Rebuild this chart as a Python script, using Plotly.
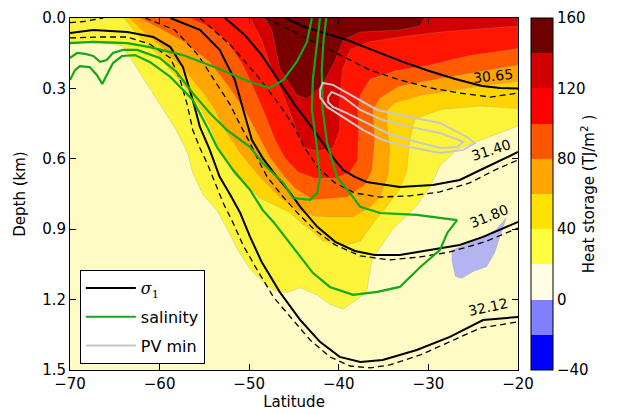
import plotly.graph_objects as go

# ---------------- data (latitude in deg, depth in km) ----------------
HS20_LAT = [-70, -20, -20, -23.5, -26.8, -28.7, -29.8, -31.3, -34.0, -36.3, -36.9, -38.75, -39.5, -41.0, -42.4,
            -44.3, -45.8, -47.3, -48.6, -49.9, -51.25, -52.6, -53.6, -55.2, -56.3, -56.9, -58.1, -59.6, -61.9,
            -64.1, -65.5, -70]
HS20_DEP = [0, 0, 0.46, 0.51, 0.56, 0.63, 0.72, 0.80, 0.90, 1.03, 1.17, 1.22, 1.24, 1.22, 1.18,
            1.15, 1.17, 1.16, 1.12, 1.07, 0.99, 0.89, 0.82, 0.75, 0.66, 0.575, 0.48, 0.39, 0.25,
            0.12, 0.11, 0.10]
HS40_LAT = [-64.0, -62.75, -60.5, -58.3, -56.4, -55.2, -54.2, -53.3, -51.6, -48.8, -45.4, -44.3, -43.2, -41.8,
            -39.3, -37.6, -36.3, -34.6, -33.2, -32.4, -32.1, -31.5, -28.7, -24.2, -20, -20]
HS40_DEP = [0, 0.06, 0.145, 0.243, 0.328, 0.40, 0.477, 0.562, 0.669, 0.767, 0.83, 0.87, 0.90, 0.95,
            0.97, 0.95, 0.88, 0.80, 0.73, 0.65, 0.52, 0.43, 0.39, 0.375, 0.385, 0]
HS60_LAT = [-63.3, -62.2, -60.0, -57.2, -54.9, -53.8, -52.7, -51.0, -48.8, -46.6, -44.7, -42.7, -41.0, -38.4,
            -36.5, -35.4, -34.5, -34.3, -34.6, -34.6, -33.7, -30.9, -27.6, -24.2, -20, -20]
HS60_DEP = [0, 0.043, 0.115, 0.222, 0.328, 0.392, 0.477, 0.575, 0.677, 0.763, 0.818, 0.844, 0.848, 0.848,
            0.805, 0.763, 0.669, 0.562, 0.456, 0.392, 0.36, 0.33, 0.31, 0.29, 0.27, 0]
HS80_LAT = [-62.2, -60.0, -57.2, -54.4, -52.4, -50.5, -49.0, -47.7, -46.2, -44.9, -42.9, -39.1, -37.1, -36.3,
            -36.0, -36.2, -35.4, -33.2, -29.8, -25.4, -20, -20]
HS80_DEP = [0, 0.043, 0.102, 0.187, 0.285, 0.392, 0.498, 0.592, 0.669, 0.724, 0.775, 0.763, 0.712, 0.648,
            0.52, 0.392, 0.34, 0.29, 0.265, 0.235, 0.20, 0]
HS100_LAT = [-56.6, -54.4, -52.4, -50.7, -49.4, -48.2, -47.1, -46.0, -44.55, -42.7, -40.4, -38.75, -37.9,
             -37.8, -37.9, -37.6, -36.5, -33.7, -29.8, -25.4, -20, -20]
HS100_DEP = [0, 0.038, 0.102, 0.20, 0.307, 0.413, 0.52, 0.597, 0.656, 0.682, 0.682, 0.656, 0.605,
             0.477, 0.392, 0.328, 0.26, 0.225, 0.20, 0.16, 0.13, 0]
HS120_LAT = [-49.9, -48.6, -47.45, -46.2, -45.2, -44.55, -43.8, -42.3, -40.65, -39.9, -39.9, -39.6, -38.75,
             -36.7, -33.2, -28.7, -20, -20]
HS120_DEP = [0, 0.094, 0.222, 0.328, 0.426, 0.498, 0.554, 0.567, 0.554, 0.477, 0.349, 0.222, 0.136,
             0.102, 0.081, 0.06, 0.034, 0]
HS140_LAT = [-48.2, -47.45, -46.6, -44.7, -43.55, -41.8, -40.4, -39.5, -37.6, -33.2, -30.9, -30.4]
HS140_DEP = [0, 0.055, 0.213, 0.328, 0.345, 0.285, 0.179, 0.094, 0.06, 0.051, 0.034, 0]
NEG_LAT = [-27.4, -26.5, -24.2, -22.4, -21.3, -22.0, -22.6, -23.5, -25.0, -26.3, -27.0, -27.4]
NEG_DEP = [0.99, 0.975, 0.94, 0.90, 0.85, 0.93, 1.0, 1.06, 1.08, 1.11, 1.10, 1.03]

S3065_LAT = [-46, -44, -42, -39, -36, -33, -30, -27, -24, -22, -20]
S3065_DEP = [0, 0.035, 0.06, 0.095, 0.14, 0.185, 0.225, 0.26, 0.29, 0.298, 0.30]
S3140_LAT = [-52.7, -50.5, -48.6, -46.8, -44.9, -43.2, -41.8, -40.6, -39.5, -38.2, -36.9, -33.2, -29.5, -26.5, -23.5, -20]
S3140_DEP = [0, 0.072, 0.158, 0.264, 0.371, 0.456, 0.533, 0.597, 0.648, 0.677, 0.699, 0.72, 0.712, 0.69, 0.635, 0.571]
S3180_LAT = [-58.8, -55.5, -53.3, -51.6, -50.5, -49.7, -48.5, -46.9, -45.4, -44.3, -42.4, -40.4, -38.2, -36.0,
             -33.2, -29.5, -26.5, -23.9, -20]
S3180_DEP = [0, 0.05, 0.136, 0.264, 0.413, 0.52, 0.597, 0.677, 0.746, 0.805, 0.89, 0.954, 0.993, 1.01,
             1.01, 0.988, 0.967, 0.933, 0.869]
S3212_LAT = [-70, -67.4, -63.6, -60.7, -58.8, -57.4, -56.3, -55.5, -54.4, -53.3, -52.1, -51.0, -49.9, -48.6,
             -46.6, -44.3, -42.1, -39.9, -37.6, -35.1, -31.3, -27.6, -23.9, -20]
S3212_DEP = [0.064, 0.051, 0.06, 0.081, 0.124, 0.209, 0.349, 0.464, 0.562, 0.677, 0.754, 0.831, 0.933, 1.04,
             1.167, 1.287, 1.38, 1.444, 1.466, 1.457, 1.415, 1.359, 1.287, 1.274]
D3065_LAT = [-48.2, -45.4, -42.1, -39.3, -36.5, -33.2, -29.8, -26.5, -23.1, -20]
D3065_DEP = [0, 0.051, 0.115, 0.17, 0.222, 0.264, 0.298, 0.32, 0.337, 0.32]
D3140_LAT = [-55.5, -52.1, -49.0, -46.6, -45.1, -43.8, -42.3, -40.4, -38.2, -35.4, -32.1, -28.7, -25.4, -22.6, -20]
D3140_DEP = [0, 0.115, 0.251, 0.371, 0.456, 0.554, 0.639, 0.703, 0.746, 0.763, 0.758, 0.741, 0.703, 0.648, 0.605]
D3180_LAT = [-61.6, -58.3, -55.7, -53.8, -52.1, -51.0, -49.9, -49.0, -48.0, -46.2, -44.7, -42.7, -40.4, -37.6,
             -34.3, -30.9, -27.6, -23.7, -20]
D3180_DEP = [0, 0.051, 0.158, 0.273, 0.371, 0.456, 0.533, 0.605, 0.677, 0.763, 0.827, 0.903, 0.967, 1.014,
             1.031, 1.018, 0.997, 0.954, 0.895]
D3212_LAT = [-70, -66.65, -63.6, -61.1, -58.8, -57.7, -56.9, -56.3, -55.5, -54.7, -53.8, -52.9, -51.8, -50.7,
             -49.1, -47.3, -45.4, -43.2, -41.0, -38.75, -36.5, -34.3, -30.9, -27.6, -24.2, -20]
D3212_DEP = [0.085, 0.081, 0.081, 0.111, 0.17, 0.264, 0.371, 0.477, 0.554, 0.618, 0.703, 0.788, 0.873, 0.967,
             1.074, 1.189, 1.274, 1.372, 1.444, 1.483, 1.491, 1.478, 1.436, 1.38, 1.321, 1.295]
DTOP_LAT = [-70, -68.5, -66.3]
DTOP_DEP = [0.02, 0.015, 0]

LABEL_TEXT = ["30.65", "31.40", "31.80", "32.12"]
LABEL_LAT = [-22.8, -23.0, -23.2, -23.35]
LABEL_DEP = [0.247, 0.562, 0.844, 1.231]
LABEL_ANGLE = [-6, -18, -22, -12]

G1_LAT = [-70, -67.4, -63.6, -61.1, -57.4, -53.6, -49.9, -47.7, -46.2, -44.7, -43.55, -43.0]
G1_DEP = [0.107, 0.102, 0.107, 0.124, 0.158, 0.213, 0.273, 0.298, 0.264, 0.187, 0.102, 0]
G2_LAT = [-42.1, -42.5, -42.9, -43.0, -42.5, -42.1, -42.4, -43.2, -45.1, -46.2, -48.5, -49.9, -52.5, -54.4,
          -56.3, -58.1, -60.0, -62.5, -64.1, -65.2, -65.9, -66.65, -67.4, -68.3, -69.2, -70]
G2_DEP = [0, 0.136, 0.264, 0.392, 0.533, 0.677, 0.746, 0.775, 0.767, 0.703, 0.618, 0.55, 0.477, 0.405,
          0.32, 0.23, 0.17, 0.136, 0.136, 0.149, 0.179, 0.187, 0.162, 0.153, 0.149, 0.17]
G3_LAT = [-70, -69.44, -68.9, -67.8, -67.0, -66.4, -65.9, -65.2, -64.2, -62.75, -61.1, -58.8, -56.3, -54.7,
          -53.6, -51.8, -49.9, -48.5, -47.3, -45.1, -42.9, -41.0, -38.4, -35.7, -33.2, -30.9, -28.7, -27.9,
          -26.8, -31.3, -35.4, -37.6, -38.4, -40.2, -41.3, -41.8, -41.9, -41.7, -41.4]
G3_DEP = [0.264, 0.222, 0.205, 0.209, 0.243, 0.281, 0.243, 0.192, 0.162, 0.158, 0.187, 0.251, 0.349, 0.464,
          0.55, 0.648, 0.733, 0.818, 0.869, 0.976, 1.086, 1.146, 1.18, 1.167, 1.146, 1.061, 0.988, 0.916,
          0.861, 0.839, 0.831, 0.805, 0.763, 0.677, 0.533, 0.392, 0.222, 0.094, 0]

PV_OUT_LAT = [-42.1, -41.8, -40.65, -37.6, -35.7, -32.1, -28.7, -25.7, -24.8, -26.1, -28.7, -32.1, -35.1,
              -37.3, -39.5, -41.3, -42.1, -42.1]
PV_OUT_DEP = [0.307, 0.277, 0.285, 0.349, 0.392, 0.422, 0.447, 0.507, 0.533, 0.562, 0.575, 0.55, 0.52,
              0.477, 0.422, 0.379, 0.337, 0.307]
PV_IN_LAT = [-41.2, -40.8, -39.5, -37.6, -35.1, -32.1, -28.7, -26.1, -26.8, -28.7, -32.1, -34.6, -36.9,
             -39.1, -40.65, -41.2, -41.2]
PV_IN_DEP = [0.337, 0.315, 0.337, 0.392, 0.435, 0.464, 0.49, 0.528, 0.55, 0.554, 0.52, 0.49, 0.447,
             0.405, 0.379, 0.358, 0.337]

CB_LEVELS = [-40, -20, 0, 20, 40, 60, 80, 100, 120, 140, 160]
CB_COLORS = ["#0000ff", "#8080ff", "#fffde2", "#ffff40", "#ffe200", "#ffa500",
             "#ff5500", "#ff0000", "#d20000", "#6e0000"]
CB_TICKS = [-40, 0, 40, 80, 120, 160]

# ---------------- figure ----------------
FILL_COLORS = ["#fbf43a", "#ffd400", "#ffa400", "#ff5c00", "#ff1500", "#d40000", "#7a0000"]
regions = [(HS20_LAT, HS20_DEP), (HS40_LAT, HS40_DEP), (HS60_LAT, HS60_DEP), (HS80_LAT, HS80_DEP),
           (HS100_LAT, HS100_DEP), (HS120_LAT, HS120_DEP), (HS140_LAT, HS140_DEP)]

fig = go.Figure()
for (la, de), col in zip(regions, FILL_COLORS):
    fig.add_trace(go.Scatter(x=la, y=de, mode="lines", fill="toself", fillcolor=col,
                             line=dict(color="rgba(150,150,150,0.45)", width=0.6),
                             showlegend=False, hoverinfo="skip"))
fig.add_trace(go.Scatter(x=NEG_LAT, y=NEG_DEP, mode="lines", fill="toself", fillcolor="#b4b4f2",
                         line=dict(color="rgba(150,150,150,0.45)", width=0.6),
                         showlegend=False, hoverinfo="skip"))

for la, de in [(D3065_LAT, D3065_DEP), (D3140_LAT, D3140_DEP), (D3180_LAT, D3180_DEP),
               (D3212_LAT, D3212_DEP), (DTOP_LAT, DTOP_DEP)]:
    fig.add_trace(go.Scatter(x=la, y=de, mode="lines", line=dict(color="black", width=1.3, dash="6px,4px"),
                             showlegend=False, hoverinfo="skip"))
first = True
for la, de in [(S3065_LAT, S3065_DEP), (S3140_LAT, S3140_DEP), (S3180_LAT, S3180_DEP), (S3212_LAT, S3212_DEP)]:
    fig.add_trace(go.Scatter(x=la, y=de, mode="lines", line=dict(color="black", width=2),
                             name='<span style="font-family:DejaVu Serif"><i>σ</i><sub>1</sub></span>',
                             legendgroup="a", showlegend=first, hoverinfo="skip"))
    first = False
first = True
for la, de in [(G1_LAT, G1_DEP), (G2_LAT, G2_DEP), (G3_LAT, G3_DEP)]:
    fig.add_trace(go.Scatter(x=la, y=de, mode="lines", line=dict(color="#14a814", width=2.2),
                             name="salinity", legendgroup="b", showlegend=first, hoverinfo="skip"))
    first = False
first = True
for la, de in [(PV_OUT_LAT, PV_OUT_DEP), (PV_IN_LAT, PV_IN_DEP)]:
    fig.add_trace(go.Scatter(x=la, y=de, mode="lines", line=dict(color="#c8c8c8", width=2),
                             name="PV min", legendgroup="c", showlegend=first, hoverinfo="skip"))
    first = False

vmin, vmax = CB_LEVELS[0], CB_LEVELS[-1]
cscale = []
for i, c in enumerate(CB_COLORS):
    cscale.append([(CB_LEVELS[i] - vmin) / (vmax - vmin), c])
    cscale.append([(CB_LEVELS[i + 1] - vmin) / (vmax - vmin), c])
fig.add_trace(go.Scatter(
    x=[None], y=[None], mode="markers", showlegend=False, hoverinfo="skip",
    marker=dict(color=[0], colorscale=cscale, cmin=vmin, cmax=vmax, showscale=True,
                colorbar=dict(x=1.029, xanchor="left", y=0.5, yanchor="middle", len=1, lenmode="fraction",
                              thickness=22, xpad=0, ypad=0, outlinewidth=1, outlinecolor="black",
                              tickvals=CB_TICKS, ticks="", ticksuffix="\u00a0\u00a0\u00a0",
                              tickfont=dict(size=15, color="black"),
                              title=dict(text="Heat storage (TJ/m<sup>2</sup> )", side="right",
                                         font=dict(size=15, color="black"))))))

for t, la, de, ang in zip(LABEL_TEXT, LABEL_LAT, LABEL_DEP, LABEL_ANGLE):
    fig.add_annotation(x=la, y=de, text=t, showarrow=False, textangle=ang,
                       font=dict(size=14, color="black"))

# page body has an 8 px margin, so the figure is 8 px smaller and margins compensate
fig.update_layout(
    width=614, height=406,
    margin=dict(l=62, r=104, t=10, b=44, autoexpand=False),
    paper_bgcolor="white", plot_bgcolor="#fefcc4",
    font=dict(family="DejaVu Sans", size=14, color="black"),
    legend=dict(x=0.022, y=0.284, xanchor="left", yanchor="top", bgcolor="white",
                bordercolor="black", borderwidth=1, font=dict(size=16), itemwidth=50,
                traceorder="grouped", tracegroupgap=5),
)
fig.update_xaxes(range=[-70, -20], dtick=10, ticks="inside", ticklen=6, tickcolor="black",
                 showline=True, linecolor="black", linewidth=1, mirror="allticks", showgrid=False,
                 zeroline=False, automargin=False,
                 title=dict(text="Latitude", standoff=2, font=dict(size=15)),
                 tickfont=dict(size=15))
fig.update_yaxes(range=[1.5, 0], tickvals=[0, 0.3, 0.6, 0.9, 1.2, 1.5], tickformat=".1f",
                 ticks="inside", ticklen=6, tickcolor="black",
                 showline=True, linecolor="black", linewidth=1, mirror="allticks", showgrid=False,
                 zeroline=False, automargin=False,
                 title=dict(text="Depth (km)", standoff=12, font=dict(size=15)),
                 tickfont=dict(size=15))

fig.write_html("out.html")
